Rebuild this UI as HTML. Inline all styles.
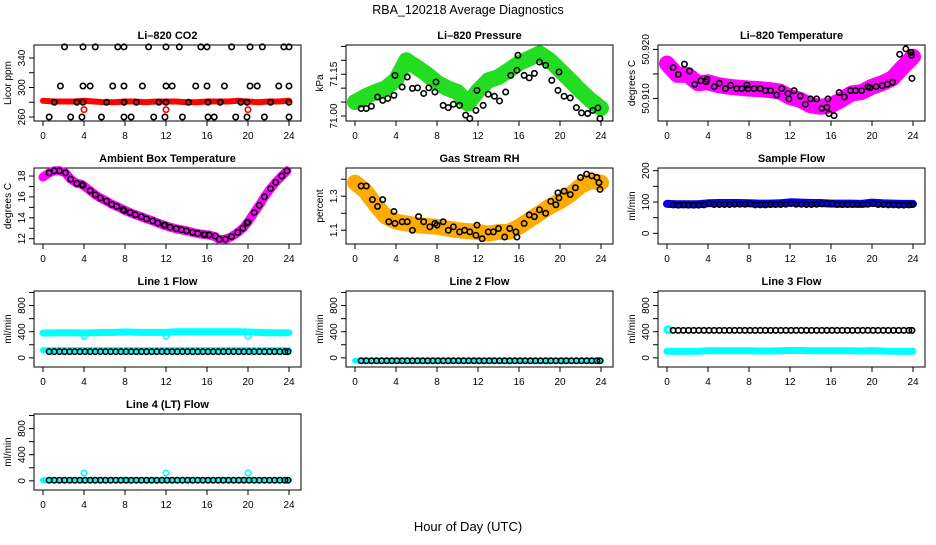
<!DOCTYPE html>
<html><head><meta charset="utf-8">
<style>
html,body{margin:0;padding:0;background:#fff;}
svg text{font-family:"Liberation Sans",Arial,sans-serif;}
</style></head>
<body>
<svg id="chart" width="936" height="540" viewBox="0 0 936 540" xmlns="http://www.w3.org/2000/svg">
<rect x="0" y="0" width="936" height="540" fill="#fff"/>
<text x="468" y="14" text-anchor="middle" font-size="12.5">RBA_120218  Average Diagnostics</text>
<text x="468" y="531" text-anchor="middle" font-size="13">Hour of Day (UTC)</text>
</svg>
<script>
// ---------- data ----------
const xTicks = [0,4,8,12,16,20,24];
const denseHours = [0,1,2,3,4,5,6,7,8,9,10,11,12,13,14,15,16,17,18,19,20,21,22,23,24];
const flowHours = [0.6,1.1,1.6,2.1,2.6,3.1,3.6,4.1,4.6,5.1,5.6,6.1,6.6,7.1,7.6,8.1,8.6,9.1,9.6,10.1,10.6,11.1,11.6,12.1,12.6,13.1,13.6,14.1,14.6,15.1,15.6,16.1,16.6,17.1,17.6,18.1,18.6,19.1,19.6,20.1,20.6,21.1,21.6,22.1,22.6,23.1,23.6,23.9];
const outlierHours = [4,12,20];

// CO2
const co2Dense = [282,281,281,281,282,281,280,280,281,281,280,281,281,281,280,280,281,281,281,282,281,280,281,281,282];
const co2Outliers = [270,270,270];
const co2Hours = [0.6,1.1,1.7,2.1,2.7,3.3,3.8,3.9,3.9,3.9,4.6,5.1,5.7,6.2,6.8,7.3,7.9,7.9,7.9,7.9,8.6,9.1,9.7,10.3,10.8,11.3,11.9,12.0,12.0,12.0,12.6,13.3,13.6,14.2,14.9,15.4,16.0,16.0,16.1,16.1,16.7,17.3,17.7,18.4,18.8,19.3,19.9,19.9,20.2,20.2,20.9,21.4,21.6,22.2,23.0,23.5,24,24,24,24];
const co2Values = [260,280,302,355,260,280,260,280,302,355,302,355,260,280,302,355,355,302,280,260,260,280,302,355,260,280,260,280,302,355,302,355,260,280,302,355,355,302,280,260,260,280,302,355,260,280,280,260,355,302,302,355,260,280,302,355,355,302,280,260];

// Pressure
const presDense = [71.05,71.07,71.086,71.10,71.13,71.20,71.176,71.15,71.12,71.10,71.086,71.045,71.09,71.128,71.14,71.164,71.19,71.207,71.225,71.20,71.164,71.128,71.09,71.056,71.028];
const presHours = [0.6,1.1,1.6,2.2,2.7,3.2,3.8,3.9,4.6,5.1,5.6,6.1,6.7,7.2,7.8,7.9,8.6,9.1,9.6,10.2,10.8,11.2,11.8,11.9,12.5,13.0,13.6,14.1,14.7,15.2,15.8,15.9,16.5,17.0,17.5,18.0,18.6,19.2,19.8,19.9,20.4,21.0,21.6,22.1,22.7,23.2,23.7,23.9];
const presValues = [71.027,71.027,71.035,71.068,71.056,71.063,71.074,71.146,71.104,71.140,71.099,71.101,71.081,71.101,71.086,71.122,71.038,71.030,71.042,71.038,71.003,70.991,71.020,71.092,71.038,71.078,71.071,71.054,71.086,71.146,71.164,71.218,71.146,71.137,71.153,71.194,71.182,71.128,71.092,71.158,71.071,71.065,71.030,71.011,71.009,71.020,71.029,70.991];

// Li-820 temperature
const tempDense = [50.9171,50.9148,50.9148,50.9131,50.9133,50.9127,50.9124,50.9122,50.9120,50.9119,50.9117,50.9114,50.9103,50.9097,50.9086,50.9083,50.9086,50.9097,50.9110,50.9113,50.9124,50.9131,50.9141,50.9164,50.9185];
const tempHours = [0.6,1.1,1.7,2.2,2.7,3.3,3.8,3.9,4.6,5.1,5.7,6.2,6.8,7.3,7.8,7.9,8.5,9.1,9.6,10.1,10.7,11.2,11.8,11.9,12.4,13.0,13.5,14.0,14.6,15.1,15.6,15.7,15.8,16.3,16.8,17.3,17.9,18.4,19.0,19.6,19.8,20.4,21.0,21.5,22.0,22.7,23.3,23.8,23.85,23.9];
const tempValues = [50.9163,50.9149,50.9170,50.9156,50.9129,50.9136,50.9134,50.9139,50.9124,50.9131,50.9120,50.9127,50.9120,50.9120,50.9127,50.9120,50.9120,50.9120,50.9116,50.9116,50.9107,50.9120,50.9110,50.9099,50.9116,50.9105,50.9088,50.9099,50.9099,50.9080,50.9082,50.9099,50.9069,50.9065,50.9112,50.9103,50.9116,50.9116,50.9116,50.9124,50.9122,50.9124,50.9126,50.9129,50.9133,50.9190,50.9201,50.9194,50.9188,50.9141];

// Ambient box temperature
const ambDenseHours = [0,0.6,1.1,1.6,2.2,2.7,3.3,3.8,4.6,5.1,5.6,6.2,6.7,7.2,7.8,8.5,9.0,9.6,10.1,10.7,11.2,11.8,12.4,13.0,13.5,14.0,14.6,15.1,15.7,16.2,16.8,17.2,17.8,18.4,19.0,19.5,20.0,20.6,21.1,21.6,22.2,22.7,23.3,23.8];
const ambDense = [17.9,18.3,18.5,18.5,18.3,17.7,17.3,17.2,16.6,16.2,15.9,15.6,15.3,15.1,14.8,14.5,14.3,14.1,13.9,13.7,13.5,13.3,13.1,12.95,12.85,12.75,12.6,12.5,12.4,12.35,12.2,11.9,11.95,12.2,12.6,13.0,13.6,14.5,15.2,16.0,16.8,17.4,18.0,18.5];
const ambHours = [0.6,1.1,1.6,2.2,2.7,3.3,3.8,3.9,4.6,5.1,5.6,6.2,6.7,7.2,7.8,7.9,8.5,9.0,9.6,10.1,10.7,11.2,11.8,11.9,12.4,13.0,13.5,14.0,14.6,15.1,15.7,15.8,16.2,16.8,17.2,17.8,18.4,19.0,19.5,19.9,20.0,20.6,21.1,21.6,22.2,22.7,23.3,23.8];
const ambValues = [18.3,18.5,18.5,18.3,17.7,17.3,17.2,17.1,16.6,16.2,15.9,15.6,15.3,15.1,14.8,14.7,14.5,14.3,14.1,13.9,13.7,13.5,13.3,13.3,13.1,12.95,12.85,12.75,12.6,12.5,12.4,12.4,12.35,12.25,11.95,11.95,12.2,12.6,13.0,13.5,13.6,14.5,15.2,16.0,16.8,17.4,18.0,18.5];

// Gas stream RH
const rhDense = [1.38,1.33,1.25,1.18,1.15,1.14,1.13,1.125,1.12,1.11,1.10,1.095,1.09,1.08,1.09,1.09,1.12,1.16,1.20,1.24,1.27,1.31,1.36,1.39,1.38];
const rhHours = [0.6,1.1,1.7,2.2,2.7,3.3,3.8,3.9,4.6,5.1,5.6,6.2,6.7,7.3,7.8,8.0,8.6,9.1,9.6,10.2,10.7,11.2,11.8,11.9,12.4,13.0,13.5,14.0,14.6,15.1,15.7,15.8,16.5,17.0,17.5,18.0,18.6,19.1,19.6,19.8,19.9,20.4,21.0,21.5,22.0,22.6,23.1,23.6,23.8,23.9];
const rhValues = [1.36,1.36,1.28,1.24,1.28,1.15,1.21,1.14,1.15,1.15,1.10,1.18,1.15,1.12,1.14,1.13,1.15,1.10,1.12,1.09,1.10,1.09,1.07,1.13,1.05,1.09,1.09,1.11,1.06,1.11,1.09,1.06,1.14,1.19,1.18,1.22,1.20,1.27,1.25,1.32,1.29,1.33,1.31,1.35,1.41,1.43,1.42,1.41,1.38,1.34];

// Sample flow
const sampleDense = [94,93,93,93,96,97,97,97,96,95,95,96,99,98,97,97,95,95,95,94,98,96,95,94,94];
const sampleValues = [91,90,91,90,90,90,91,95,92,92,92,92,93,93,93,94,91,91,91,92,92,92,93,95,93,93,92,92,93,94,95,96,92,92,92,92,93,93,93,95,92,92,91,91,90,90,91,92];

// Line flows
const line1Upper = [380,382,385,385,380,385,388,390,395,392,390,390,390,398,400,400,400,400,400,398,395,390,385,385,385];
const line1Lower = [115,118,118,118,118,118,118,118,118,118,118,118,118,118,118,118,118,118,118,118,118,118,118,118,118];
const line1Outliers = [330,330,330];
const line1Values = [95,95,95,95,95,95,95,95,95,95,95,95,95,95,95,95,95,95,95,95,95,95,95,95,95,95,95,95,95,95,95,95,95,95,95,95,95,95,95,95,95,95,95,95,95,95,95,95];
const line2Dense = [-45,-45,-45,-45,-45,-45,-45,-45,-45,-45,-45,-45,-45,-45,-45,-45,-45,-45,-45,-45,-45,-45,-45,-45,-45];
const line2Values = [-45,-45,-45,-45,-45,-45,-45,-45,-45,-45,-45,-45,-45,-45,-45,-45,-45,-45,-45,-45,-45,-45,-45,-45,-45,-45,-45,-45,-45,-45,-45,-45,-45,-45,-45,-45,-45,-45,-45,-45,-45,-45,-45,-45,-45,-45,-45,-45];
const line3Lower = [100,100,100,100,110,110,110,110,110,105,105,110,112,112,110,110,110,108,108,105,110,105,100,100,100];
const line3Start = [430];
const line3Values = [420,420,420,420,420,420,420,420,420,420,420,420,420,420,420,420,420,420,420,420,420,420,420,420,420,420,420,420,420,420,420,420,420,420,420,420,420,420,420,420,420,420,420,420,420,420,420,420];
const line4Dense = [10,10,10,10,10,10,10,10,10,10,10,10,10,10,10,10,10,10,10,10,10,10,10,10,10];
const line4Outliers = [120,120,120];
const line4Values = [10,10,10,10,10,10,10,10,10,10,10,10,10,10,10,10,10,10,10,10,10,10,10,10,10,10,10,10,10,10,10,10,10,10,10,10,10,10,10,10,10,10,10,10,10,10,10,10];

// ---------- drawing ----------
const NS = "http://www.w3.org/2000/svg";
const svg = document.getElementById("chart");
function mk(tag, attrs, parent){
  const e = document.createElementNS(NS, tag);
  for (const k in attrs) e.setAttribute(k, attrs[k]);
  (parent||svg).appendChild(e);
  return e;
}
function makePanel(col,row,title,ylab,ymin,ymax,ticks,labels,key){
  const left = 34+312*col, right = left+267;
  const top = 45+123*row, bot = top+76;
  const g = mk("g",{});
  
  
  const xs = h => 43+312*col + h*10.25;
  const ys = v => top + 76*(ymax-v)/(ymax-ymin);
  const p = {g,xs,ys,left,right,top,bot};
  // title
  const t = mk("text",{x:(left+right)/2, y:top-6, "text-anchor":"middle","font-size":"11","font-weight":"bold"},g);
  t.textContent = title;
  
  
  // ylab
  const yl = mk("text",{transform:`translate(${left-23},${(top+bot)/2}) rotate(-90)`,"text-anchor":"middle","font-size":"10"},g);
  yl.textContent = ylab;
  
  
  // x axis
  for (const h of xTicks){
    const x = xs(h);
    const tk = mk("line",{x1:x,x2:x,y1:bot,y2:bot+5,stroke:"#000","stroke-width":1},g);
    
    
    const lb = mk("text",{x:x,y:bot+18,"text-anchor":"middle","font-size":"10"},g);
    lb.textContent = h;
    
    
  }
  // y axis
  for (let i=0;i<ticks.length;i++){
    const y = ys(ticks[i]);
    const tk = mk("line",{x1:left-5,x2:left,y1:y,y2:y,stroke:"#000","stroke-width":1},g);
    
    
  }
  for (let i=0;i<labels.length;i++){
    const y = ys(labels[i].v);
    const lb = mk("text",{transform:`translate(${left-9},${y}) rotate(-90)`,"text-anchor":"middle","font-size":"10"},g);
    lb.textContent = labels[i].t;
    
    
  }
  // plot box
  const bx = mk("rect",{x:left,y:top,width:267,height:76,fill:"none",stroke:"#000","stroke-width":1},g);
  
  
  return p;
}
function band(p,hours,vals,color,w,name){
  let d = "";
  for (let i=0;i<vals.length;i++) d += (i?"L":"M")+p.xs(hours[i]).toFixed(1)+" "+p.ys(vals[i]).toFixed(1);
  const e = mk("path",{d:d,fill:"none",stroke:color,"stroke-width":w,"stroke-linejoin":"round","stroke-linecap":"round"},p.g);
  
  
}
function pts(p,hours,vals,color,name,r,sw){
  for (let i=0;i<vals.length;i++){
    const c = mk("circle",{cx:p.xs(hours[i]),cy:p.ys(vals[i]),r:r||2.7,fill:"none",stroke:color,"stroke-width":sw||1.6},p.g);
    
    
  }
}
const L = (arr)=>arr.map(v=>({v:v,t:String(v)}));

// CO2
let p = makePanel(0,0,"Li\u2013820 CO2","Licor ppm",254.6,357.6,[260,280,300,320,340],L([260,300,340]),"co2");
band(p,denseHours,co2Dense,"#ff0000",6,"co2-dense-band");
pts(p,outlierHours,co2Outliers,"#ff0000","co2-outlier-point");
pts(p,co2Hours,co2Values,"#000","co2-avg-point");

// Pressure
p = makePanel(1,0,"Li\u2013820 Pressure","kPa",70.982,71.255,[71.00,71.05,71.10,71.15,71.20,71.25],[{v:71.00,t:"71.00"},{v:71.15,t:"71.15"}],"pressure");
band(p,denseHours,presDense,"#22dd22",16,"pressure-dense-band");
pts(p,presHours,presValues,"#000","pressure-avg-point");

// Li-820 temperature
p = makePanel(2,0,"Li\u2013820 Temperature","degrees C",50.9054,50.9209,[50.910,50.915,50.920],[{v:50.910,t:"50.910"},{v:50.920,t:"50.920"}],"li820-temp");
band(p,denseHours,tempDense,"#ff00ff",16,"li820-temp-dense-band");
pts(p,tempHours,tempValues,"#000","li820-temp-avg-point");

// Ambient
p = makePanel(0,1,"Ambient Box Temperature","degrees C",11.49,18.77,[12,13,14,15,16,17,18],L([12,14,16,18]),"ambient-temp");
band(p,ambDenseHours,ambDense,"#ff00ff",9,"ambient-temp-dense-band");
pts(p,ambHours,ambValues,"#000","ambient-temp-avg-point");

// RH
p = makePanel(1,1,"Gas Stream RH","percent",1.019,1.466,[1.1,1.2,1.3,1.4],L([1.1,1.3]),"gas-rh");
band(p,denseHours,rhDense,"#ffaa00",16,"gas-rh-dense-band");
pts(p,rhHours,rhValues,"#000","gas-rh-avg-point");

// Sample flow
p = makePanel(2,1,"Sample Flow","ml/min",-34,208.6,[0,50,100,150,200],L([0,100,200]),"sample-flow");
band(p,denseHours,sampleDense,"#0000ff",8,"sample-flow-dense-band");
pts(p,flowHours,sampleValues,"#000","sample-flow-avg-point");

const flowTicks = [0,200,400,600,800,1000];
// Line 1
p = makePanel(0,2,"Line 1 Flow","ml/min",-140,1023,flowTicks,L([0,400,800]),"line1-flow");
band(p,denseHours,line1Upper,"#00ffff",7,"line1-flow-upper-band");
band(p,denseHours,line1Lower,"#00ffff",6,"line1-flow-lower-band");
pts(p,outlierHours,line1Outliers,"#00ffff","line1-flow-outlier-point");
pts(p,flowHours,line1Values,"#000","line1-flow-avg-point");

// Line 2
p = makePanel(1,2,"Line 2 Flow","ml/min",-140,1023,flowTicks,L([0,400,800]),"line2-flow");
band(p,denseHours,line2Dense,"#00ffff",6,"line2-flow-band");
pts(p,flowHours,line2Values,"#000","line2-flow-avg-point");

// Line 3
p = makePanel(2,2,"Line 3 Flow","ml/min",-140,1023,flowTicks,L([0,400,800]),"line3-flow");
band(p,denseHours,line3Lower,"#00ffff",7,"line3-flow-lower-band");
pts(p,[0.1],line3Start,"#00ffff","line3-flow-start-point",3,3);
pts(p,flowHours,line3Values,"#000","line3-flow-avg-point");

// Line 4
p = makePanel(0,3,"Line 4 (LT) Flow","ml/min",-140,1023,flowTicks,L([0,400,800]),"line4-flow");
band(p,denseHours,line4Dense,"#00ffff",6,"line4-flow-band");
pts(p,outlierHours,line4Outliers,"#00ffff","line4-flow-outlier-point");
pts(p,flowHours,line4Values,"#000","line4-flow-avg-point");
</script>
</body></html>
